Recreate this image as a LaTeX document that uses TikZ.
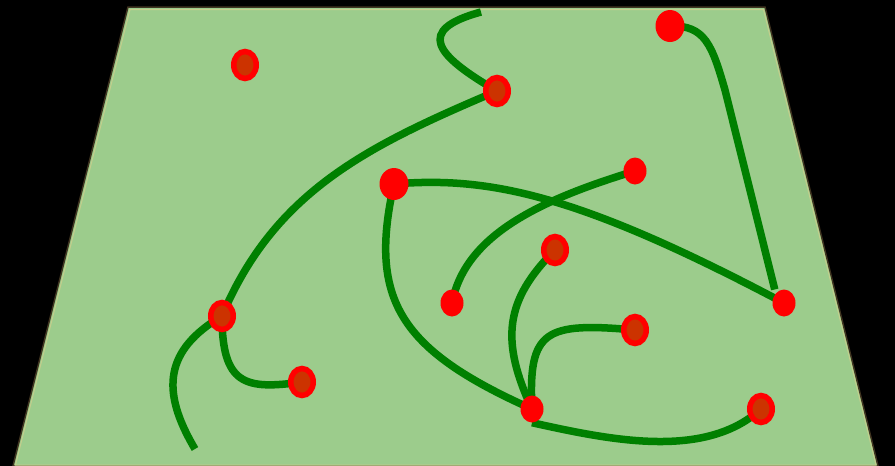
\documentclass[tikz,border=0pt]{standalone}
\usepackage{tikz}
\usetikzlibrary{shapes,positioning}
\definecolor{fieldgreen}{RGB}{156,204,140}
\definecolor{pathgreen}{RGB}{0,128,0}
\definecolor{stopred}{RGB}{255,0,0}
\definecolor{stopcore}{RGB}{204,51,0}
\definecolor{edgebrown}{RGB}{64,52,32}
\definecolor{edgelight}{RGB}{196,206,140}
\pgfdeclarelayer{bg}
\pgfdeclarelayer{trail}
\pgfsetlayers{bg,trail,main}

\begin{document}
\begin{tikzpicture}[x=1pt, y=-1pt,
    stop/.style={ellipse, fill=stopred, inner sep=0pt, minimum width=23pt, minimum height=27pt},
    bigstop/.style={stop, minimum width=29pt, minimum height=32pt},
    ringstop/.style={ellipse, fill=stopcore, draw=stopred, line width=5.5pt, inner sep=0pt, minimum width=22.5pt, minimum height=27pt},
    trail/.style={draw=pathgreen, line width=7.5pt}]

\useasboundingbox (0,0) rectangle (895,466);

\node[ringstop] (lone) at (245,65) {};
\node[ringstop] (ridge) at (497,91) {};
\node[bigstop] (peak) at (670,26) {};
\node[bigstop] (hub) at (394,184) {};
\node[stop] (east) at (635,171) {};
\node[ringstop] (mid) at (555,250) {};
\node[stop] (low) at (452,303) {};
\node[stop] (rim) at (784,303) {};
\node[ringstop] (west) at (222,316) {};
\node[ringstop] (pond) at (635,330) {};
\node[ringstop] (camp) at (302,382) {};
\node[stop] (base) at (532,409) {};
\node[ringstop] (gate) at (761,409) {};
\coordinate (top) at (481,12);
\coordinate (foot) at (195,449);

\begin{pgfonlayer}{bg}
\fill[black] (0,0) rectangle (895,466);
\draw[fill=fieldgreen, draw=edgebrown, line width=1.5pt] (128,7) -- (765,7) -- (878,466) -- (13,466) -- cycle;
\draw[edgelight, line width=1pt] (130,9.5) -- (763.5,9.5) -- (876,465) -- (15.5,465) -- cycle;
\end{pgfonlayer}

\begin{pgfonlayer}{trail}
\draw[trail] (top) .. controls (415,30) and (435,55) .. (ridge.center);
\draw[trail] (ridge.center) .. controls (370,145) and (275,190) .. (west.center);
\draw[trail] (west.center) .. controls (165,350) and (160,390) .. (foot);
\draw[trail] (west.center) .. controls (222,385) and (245,390) .. (camp.center);
\draw[trail, shorten >=4pt] (peak.center) .. controls (705,25) and (712,45) .. (725,90) -- (rim.north west);
\draw[trail] (hub.center) .. controls (490,176) and (580,195) .. (rim.center);
\draw[trail] (east.center) .. controls (540,200) and (465,235) .. (low.center);
\draw[trail] (hub.center) .. controls (368,300) and (400,350) .. (base.center);
\draw[trail] (mid.center) .. controls (505,300) and (500,340) .. (base.center);
\draw[trail] (pond.center) .. controls (545,322) and (528,330) .. (base.center);
\draw[trail] (base.south) .. controls (610,440) and (705,460) .. (gate.center);
\end{pgfonlayer}

\end{tikzpicture}
\end{document}
